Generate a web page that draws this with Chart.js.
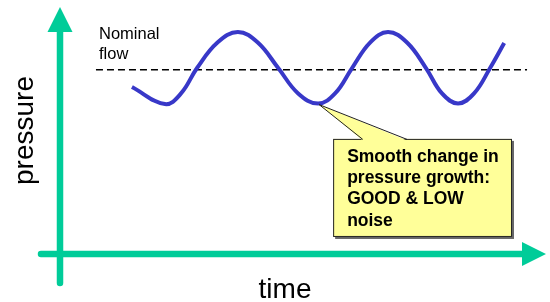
<!DOCTYPE html>
<html>
<head>
<meta charset="utf-8">
<script src="https://cdn.jsdelivr.net/npm/chart.js@4"></script>
<style>
  html, body { margin: 0; padding: 0; background: #fff; }
  canvas { display: block; }
</style>
</head>
<body>
<canvas id="chart" width="550" height="302"></canvas>
<script>
// values (time / pressure, arbitrary 0..100 units)
const timeValues = [14.8, 21.6, 24.9, 28.2, 32.4, 36.6, 40.7, 44.9, 49.0, 53.1, 56.6,
                    60.1, 63.8, 67.5, 71.4, 75.3, 78.6, 81.9, 85.2, 88.5, 91.4];
const pressureValues = [67.6, 60.7, 65.0, 75.3, 85.6, 89.9, 85.6, 75.3, 65.0, 60.9, 65.0,
                        75.3, 85.6, 89.9, 85.6, 75.3, 65.0, 60.9, 65.0, 75.3, 85.4];
const nominalTime = [7.4, 96.1];
const nominalPressure = [74.6, 74.6];

const xLabel = 'time';
const yLabel = 'pressure';
const nominalLabel = ['Nominal', 'flow'];
const calloutLines = ['Smooth change in', 'pressure growth:', 'GOOD & LOW', 'noise'];
const calloutIndex = 9; // the dip the note points at

const GREEN = '#00cc99';
const BLUE = '#3838c8';
const FONT = '"Liberation Sans", Arial, sans-serif';

const arrowAxes = {
  id: 'arrowAxes',
  beforeDatasetsDraw(chart) {
    const { ctx, chartArea: a } = chart;
    ctx.save();
    ctx.strokeStyle = GREEN;
    ctx.fillStyle = GREEN;
    ctx.lineWidth = 6.5;
    ctx.lineCap = 'round';
    ctx.beginPath();
    ctx.moveTo(a.left, a.bottom + 29);
    ctx.lineTo(a.left, a.top + 24);
    ctx.moveTo(a.left - 19, a.bottom);
    ctx.lineTo(a.right - 23, a.bottom);
    ctx.stroke();

    ctx.beginPath();
    ctx.moveTo(a.left, a.top);
    ctx.lineTo(a.left + 12.5, a.top + 25);
    ctx.lineTo(a.left - 12.5, a.top + 25);
    ctx.closePath();
    ctx.moveTo(a.right, a.bottom);
    ctx.lineTo(a.right - 24, a.bottom - 12);
    ctx.lineTo(a.right - 24, a.bottom + 12);
    ctx.closePath();
    ctx.fill();

    ctx.fillStyle = '#000';
    ctx.font = '28px ' + FONT;
    ctx.textAlign = 'center';
    ctx.textBaseline = 'alphabetic';
    ctx.fillText(xLabel, a.left + 225, a.bottom + 44);

    ctx.save();
    ctx.translate(a.left - 27, (a.top + a.bottom) / 2);
    ctx.rotate(-Math.PI / 2);
    ctx.fillText(yLabel, 0, 0);
    ctx.restore();

    // label over the dashed nominal line
    const xs = chart.scales.x, ys = chart.scales.y;
    const nx = xs.getPixelForValue(nominalTime[0]);
    const ny = ys.getPixelForValue(nominalPressure[0]);
    ctx.font = '16.5px ' + FONT;
    ctx.textAlign = 'left';
    ctx.fillText(nominalLabel[0], nx + 3, ny - 31);
    ctx.fillText(nominalLabel[1], nx + 3, ny - 11);
    ctx.restore();
  }
};

const callout = {
  id: 'callout',
  afterDatasetsDraw(chart) {
    const { ctx } = chart;
    const xs = chart.scales.x, ys = chart.scales.y;
    const left = xs.getPixelForValue(56.2), right = xs.getPixelForValue(93.0);
    const top = ys.getPixelForValue(46.6), bottom = ys.getPixelForValue(6.9);
    const baseL = xs.getPixelForValue(62.3), baseR = xs.getPixelForValue(71.4);
    const pt = chart.getDatasetMeta(0).data[calloutIndex];
    const tipX = pt.x + 1, tipY = pt.y + 1;

    ctx.save();
    ctx.fillStyle = '#666';
    ctx.fillRect(left + 2, top + 2, right - left, bottom - top);
    ctx.fillStyle = '#ffff99';
    ctx.strokeStyle = '#222';
    ctx.lineWidth = 1;
    ctx.fillRect(left, top, right - left, bottom - top);
    ctx.strokeRect(left + 0.5, top + 0.5, right - left - 1, bottom - top - 1);

    ctx.beginPath();
    ctx.moveTo(baseL, top + 1.5);
    ctx.lineTo(tipX, tipY);
    ctx.lineTo(baseR, top + 1.5);
    ctx.closePath();
    ctx.fill();
    ctx.beginPath();
    ctx.moveTo(baseL, top + 0.5);
    ctx.lineTo(tipX, tipY);
    ctx.lineTo(baseR, top + 0.5);
    ctx.stroke();

    ctx.fillStyle = '#000';
    ctx.font = 'bold 17.5px ' + FONT;
    ctx.textAlign = 'left';
    ctx.textBaseline = 'alphabetic';
    calloutLines.forEach((line, i) => {
      ctx.fillText(line, left + 14, top + 23 + i * 21.3);
    });
    ctx.restore();
  }
};

new Chart(document.getElementById('chart'), {
  type: 'line',
  data: {
    datasets: [{
      data: timeValues.map((t, i) => ({ x: t, y: pressureValues[i] })),
      borderColor: BLUE,
      borderWidth: 4,
      pointRadius: 0,
      tension: 0.4,
      fill: false
    }, {
      data: nominalTime.map((t, i) => ({ x: t, y: nominalPressure[i] })),
      borderColor: '#000',
      borderWidth: 1.6,
      borderDash: [7, 4],
      pointRadius: 0,
      fill: false
    }]
  },
  options: {
    responsive: false,
    animation: false,
    layout: { padding: { left: 60, right: 4, top: 7, bottom: 48 } },
    scales: {
      x: { type: 'linear', min: 0, max: 100, display: false },
      y: { min: 0, max: 100, display: false }
    },
    plugins: { legend: { display: false }, tooltip: { enabled: false } }
  },
  plugins: [arrowAxes, callout]
});
</script>
</body>
</html>
